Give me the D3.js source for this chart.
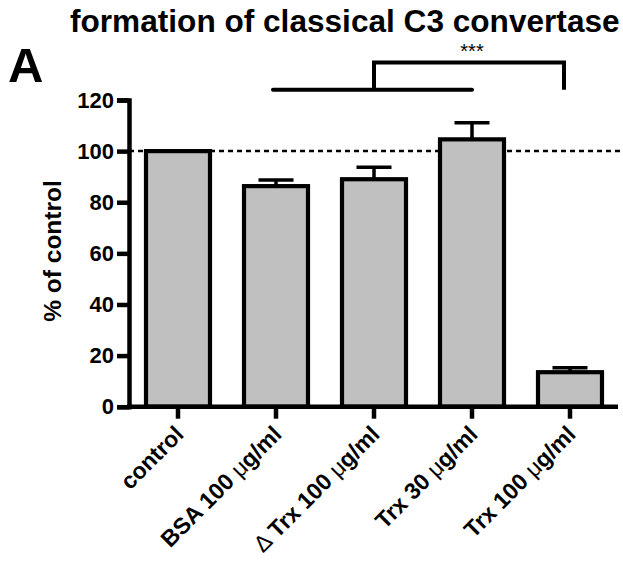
<!DOCTYPE html>
<html>
<head>
<meta charset="utf-8">
<script src="https://cdn.jsdelivr.net/npm/d3@7"></script>
<style>
  html, body { margin: 0; padding: 0; background: #fff; }
  svg { display: block; }
  text { font-family: "Liberation Sans", Arial, Helvetica, sans-serif; fill: #000; }
</style>
</head>
<body>
<svg id="chart" width="623" height="563"></svg>
<script>
// ---- data ----
const categories = ["control", "BSA", "dTrx100", "Trx30", "Trx100"];
const labelMain = ["control", "BSA 100 ", "Trx 100 ", "Trx 30 ", "Trx 100 "];
const labelPrefix = ["", "", "\u0394 ", "", ""];
const labelUnitMu = ["", "\u03bc", "\u03bc", "\u03bc", "\u03bc"];
const labelUnitRest = ["", "g/ml", "g/ml", "g/ml", "g/ml"];
const means = [100, 86.3, 89.0, 104.6, 13.5];
const sems = [0, 2.4, 4.7, 6.5, 1.7];
const yTicks = [0, 20, 40, 60, 80, 100, 120];
const referenceLevel = 100;
const bracketLowLevel = 124;
const bracketHighLevel = 134.7;
const titleText = "formation of classical C3 convertase";
const panelLetter = "A";
const yLabel = "% of control";
const sigText = "***";

// ---- layout ----
const svg = d3.select("#chart");
svg.append("rect").attr("width", 623).attr("height", 563).attr("fill", "#fff");

const x = d3.scaleBand().domain(categories).range([129, 619])
  .paddingInner(0.347).paddingOuter(0.1735);
const y = d3.scaleLinear().domain([0, 120]).range([406.7, 100]);
const cx = c => x(c) + x.bandwidth() / 2;

// title and panel letter
svg.append("text").attr("x", 70).attr("y", 32)
  .attr("font-size", 31.6).attr("font-weight", "bold").text(titleText);
svg.append("text").attr("x", 8).attr("y", 82)
  .attr("font-size", 49).attr("font-weight", "bold").text(panelLetter);

// y label
svg.append("text")
  .attr("transform", `translate(61,251) rotate(-90)`)
  .attr("text-anchor", "middle")
  .attr("font-size", 24.5).attr("font-weight", "bold").text(yLabel);

// reference dashed line (behind bars)
svg.append("line")
  .attr("x1", 129).attr("x2", 623)
  .attr("y1", y(referenceLevel)).attr("y2", y(referenceLevel))
  .attr("stroke", "#000").attr("stroke-width", 2.5)
  .attr("stroke-dasharray", "5,4");

// bars
svg.append("g").selectAll("rect").data(categories).join("rect")
  .attr("x", c => x(c))
  .attr("width", x.bandwidth())
  .attr("y", (c, i) => y(means[i]))
  .attr("height", (c, i) => y(0) - y(means[i]))
  .attr("fill", "#c0c0c0")
  .attr("stroke", "#000").attr("stroke-width", 4.2);

// error bars (upper only)
const eg = svg.append("g").attr("stroke", "#000").attr("stroke-width", 3.5);
categories.forEach((c, i) => {
  if (sems[i] <= 0) return;
  const top = y(means[i] + sems[i]);
  eg.append("line").attr("x1", cx(c)).attr("x2", cx(c))
    .attr("y1", y(means[i])).attr("y2", top);
  eg.append("line").attr("x1", cx(c) - 17.5).attr("x2", cx(c) + 17.5)
    .attr("y1", top).attr("y2", top);
});

// y axis
const yAxis = svg.append("g").attr("transform", "translate(129,0)")
  .call(d3.axisLeft(y).tickValues(yTicks).tickSize(12).tickSizeOuter(12).tickPadding(3));
yAxis.select(".domain").attr("stroke-width", 4.5).attr("stroke-linejoin", "miter");
yAxis.selectAll(".tick line").attr("stroke-width", 4.5);
yAxis.selectAll(".tick text")
  .attr("font-family", "Liberation Sans, Arial, sans-serif")
  .attr("font-size", 22).attr("font-weight", "bold").attr("fill", "#000");

// x axis
const xAxis = svg.append("g").attr("transform", `translate(0,${y(0)})`)
  .call(d3.axisBottom(x).tickSize(12).tickSizeOuter(0));
xAxis.select(".domain").remove();
xAxis.append("line").attr("x1", 127).attr("x2", 618).attr("y1", 0).attr("y2", 0)
  .attr("stroke", "#000").attr("stroke-width", 4.5);
xAxis.selectAll(".tick line").attr("stroke-width", 4.5);
xAxis.selectAll(".tick text").remove();
xAxis.selectAll(".tick").each(function(c, i) {
  const t = d3.select(this).append("text")
    .attr("transform", "translate(7,29) rotate(-45)")
    .attr("text-anchor", "end")
    .attr("font-size", 23).attr("font-weight", "bold")
    .attr("font-family", "Liberation Sans, Arial, sans-serif")
    .attr("fill", "#000");
  if (labelPrefix[i]) t.append("tspan").attr("font-weight", "normal").text(labelPrefix[i]);
  t.append("tspan").text(labelMain[i]);
  if (labelUnitMu[i]) t.append("tspan").attr("font-weight", "normal").text(labelUnitMu[i]);
  if (labelUnitRest[i]) t.append("tspan").text(labelUnitRest[i]);
});

// significance bracket
const [cB, cD, c30, c100] = ["BSA", "dTrx100", "Trx30", "Trx100"];
const bg = svg.append("g").attr("fill", "none").attr("stroke", "#000")
  .attr("stroke-width", 4).attr("stroke-linecap", "round");
bg.append("path").attr("d", `M${cx(cB) - 3},${y(bracketLowLevel)}H${cx(c30)}`);
bg.append("path").attr("d",
  `M${cx(cD)},${y(bracketLowLevel)}V${y(bracketHighLevel)}H${cx(c100) - 6}V${y(bracketLowLevel)}`)
  .attr("stroke-linecap", "butt").attr("stroke-linejoin", "miter");
svg.append("text").attr("x", cx(c30)).attr("y", 58)
  .attr("text-anchor", "middle").attr("font-size", 20).text(sigText);
</script>
</body>
</html>
